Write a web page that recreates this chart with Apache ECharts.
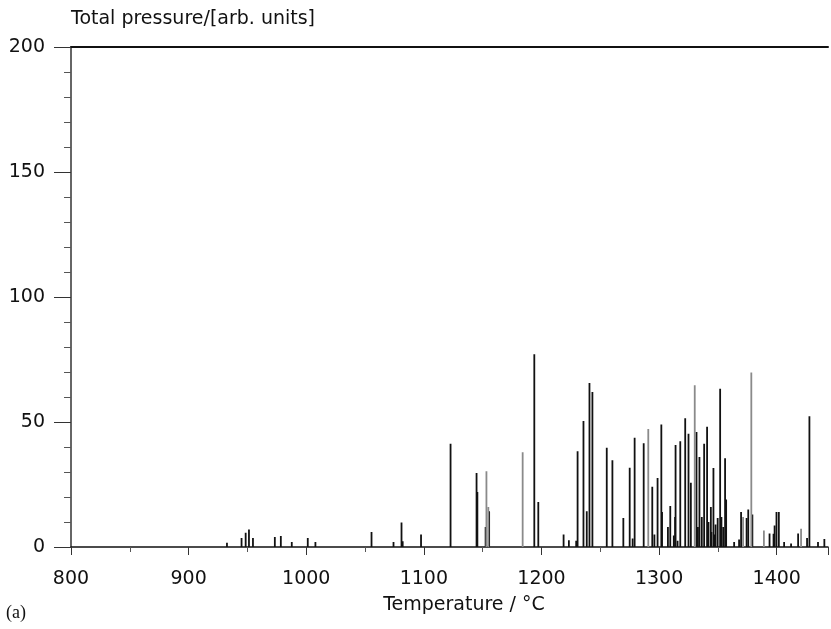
<!DOCTYPE html>
<html>
<head>
<meta charset="utf-8">
<script src="https://cdn.jsdelivr.net/npm/echarts@6/dist/echarts.min.js"></script>
<style>html,body{margin:0;padding:0;background:#fff;}#c{width:831px;height:629px;}</style>
</head>
<body>
<div id="c"></div>
<script>
// Temperatures (°C) and heights of dark spikes
var darkTemps = [932.6, 945, 948.5, 951.3, 954.7, 973.3, 978.4, 987.7, 1001.3, 1007.8, 1055.5, 1074.2, 1081, 1082, 1097.6,
  1122.7, 1144.8, 1145.5, 1152.5, 1155.5, 1193.9, 1197.3, 1218.8, 1223.3, 1229.5, 1230.7, 1235.7, 1238.5, 1240.8, 1243.3,
  1255.5, 1260.3, 1269.6, 1275, 1277.5, 1279.2, 1286.9, 1294.2, 1296, 1298.7, 1301.9, 1302.5, 1307.5, 1309.5, 1312.5, 1313.6,
  1314, 1315.7, 1318, 1322.2, 1325, 1327, 1331.8, 1333, 1334.3, 1336.3, 1338.3, 1340.8, 1342, 1344, 1344.5, 1346.2, 1347.3,
  1348, 1349.8, 1351.9, 1353, 1354.5, 1356.1, 1357, 1363.8, 1368, 1369.7, 1374.4, 1375.8, 1379.3, 1393.9, 1397.3, 1398.2,
  1399.8, 1401.8, 1406.3, 1412.2, 1418.2, 1425.8, 1427.8, 1435.1, 1440.5];
var darkVals = [1.7, 3.6, 5.7, 7, 3.6, 4, 4.4, 2, 3.6, 2, 6, 2, 9.8, 2.3, 5,
  41.3, 29.6, 22, 8, 14.3, 77.1, 18, 5, 2.7, 2.5, 38.3, 50.4, 14.3, 65.6, 62,
  39.7, 34.7, 11.6, 31.7, 3.4, 43.7, 41.5, 24.1, 5, 27.6, 49, 14, 8, 16.4, 4.6, 12,
  40.8, 2.5, 42.3, 51.5, 45.3, 25.7, 46, 8, 36, 12, 41.3, 48.1, 10, 16, 6, 31.6, 5,
  9, 11.6, 63.3, 12, 8, 35.5, 19, 2, 3, 14, 11.6, 15, 13, 5.4, 5.3, 8.6,
  14, 14, 2, 1.4, 5.4, 3.6, 52.3, 2, 3.2];
// Temperatures (°C) and heights of grey spikes
var grayTemps = [1153.2, 1154.8, 1184, 1290.8, 1330.3, 1371.4, 1378.4, 1389.1, 1420.7];
var grayVals = [30.3, 16, 37.9, 47.2, 64.7, 12, 69.8, 6.6, 7.3];
var xTicks = [800, 900, 1000, 1100, 1200, 1300, 1400];
var yTicks = [0, 50, 100, 150, 200];

function pairs(xs, ys) { return xs.map(function (x, i) { return [x, ys[i]]; }); }

var FONT = 'DejaVu Sans';
var chart = echarts.init(document.getElementById('c'), null, {renderer: 'canvas'});
chart.setOption({
  animation: false,
  backgroundColor: '#ffffff',
  grid: {left: 71, right: 0, top: 47, bottom: 82, containLabel: false},
  xAxis: [{
    type: 'value', min: xTicks[0], max: 1443.6, interval: 100,
    axisLine: {show: true, lineStyle: {color: '#111', width: 1.5}},
    axisTick: {show: true, inside: false, length: 8, lineStyle: {color: '#333', width: 1}},
    minorTick: {show: true, splitNumber: 2, length: 5, lineStyle: {color: '#555'}},
    axisLabel: {margin: 23, fontFamily: FONT, fontSize: 19, color: '#111',
      formatter: function (v) { return xTicks.indexOf(v) >= 0 ? String(v) : ''; }},
    splitLine: {show: false}
  }, {
    type: 'value', position: 'top', min: xTicks[0], max: 1443.6,
    axisLine: {show: true, onZero: false, lineStyle: {color: '#111', width: 2}},
    axisTick: {show: false}, axisLabel: {show: false}, splitLine: {show: false}
  }],
  yAxis: {
    type: 'value', min: yTicks[0], max: yTicks[yTicks.length - 1], interval: 50,
    axisLine: {show: true, lineStyle: {color: '#333', width: 1.5}},
    axisTick: {show: true, inside: false, length: 17, lineStyle: {color: '#333', width: 1}},
    minorTick: {show: true, splitNumber: 5, length: 7, lineStyle: {color: '#555'}},
    axisLabel: {margin: 26, fontFamily: FONT, fontSize: 19, color: '#111'},
    splitLine: {show: false}
  },
  series: [{
    type: 'bar', xAxisIndex: 0, data: pairs(darkTemps, darkVals), barWidth: 1.8, barGap: '-100%',
    itemStyle: {color: '#111'}
  }, {
    type: 'bar', xAxisIndex: 0, data: pairs(grayTemps, grayVals), barWidth: 1.8, barGap: '-100%',
    itemStyle: {color: '#8a8a8a'}
  }],
  graphic: [
    {type: 'text', left: 71, top: 10, style: {text: 'Total pressure/[arb. units]', font: '19px "DejaVu Sans"', fill: '#111'}},
    {type: 'text', x: 464, y: 596, style: {text: 'Temperature / °C', font: '19px "DejaVu Sans"', fill: '#111', textAlign: 'center', textVerticalAlign: 'top'}},
    {type: 'text', left: 6, top: 604, style: {text: '(a)', font: '18px "Liberation Serif"', fill: '#111'}}
  ]
});
</script>
</body>
</html>
